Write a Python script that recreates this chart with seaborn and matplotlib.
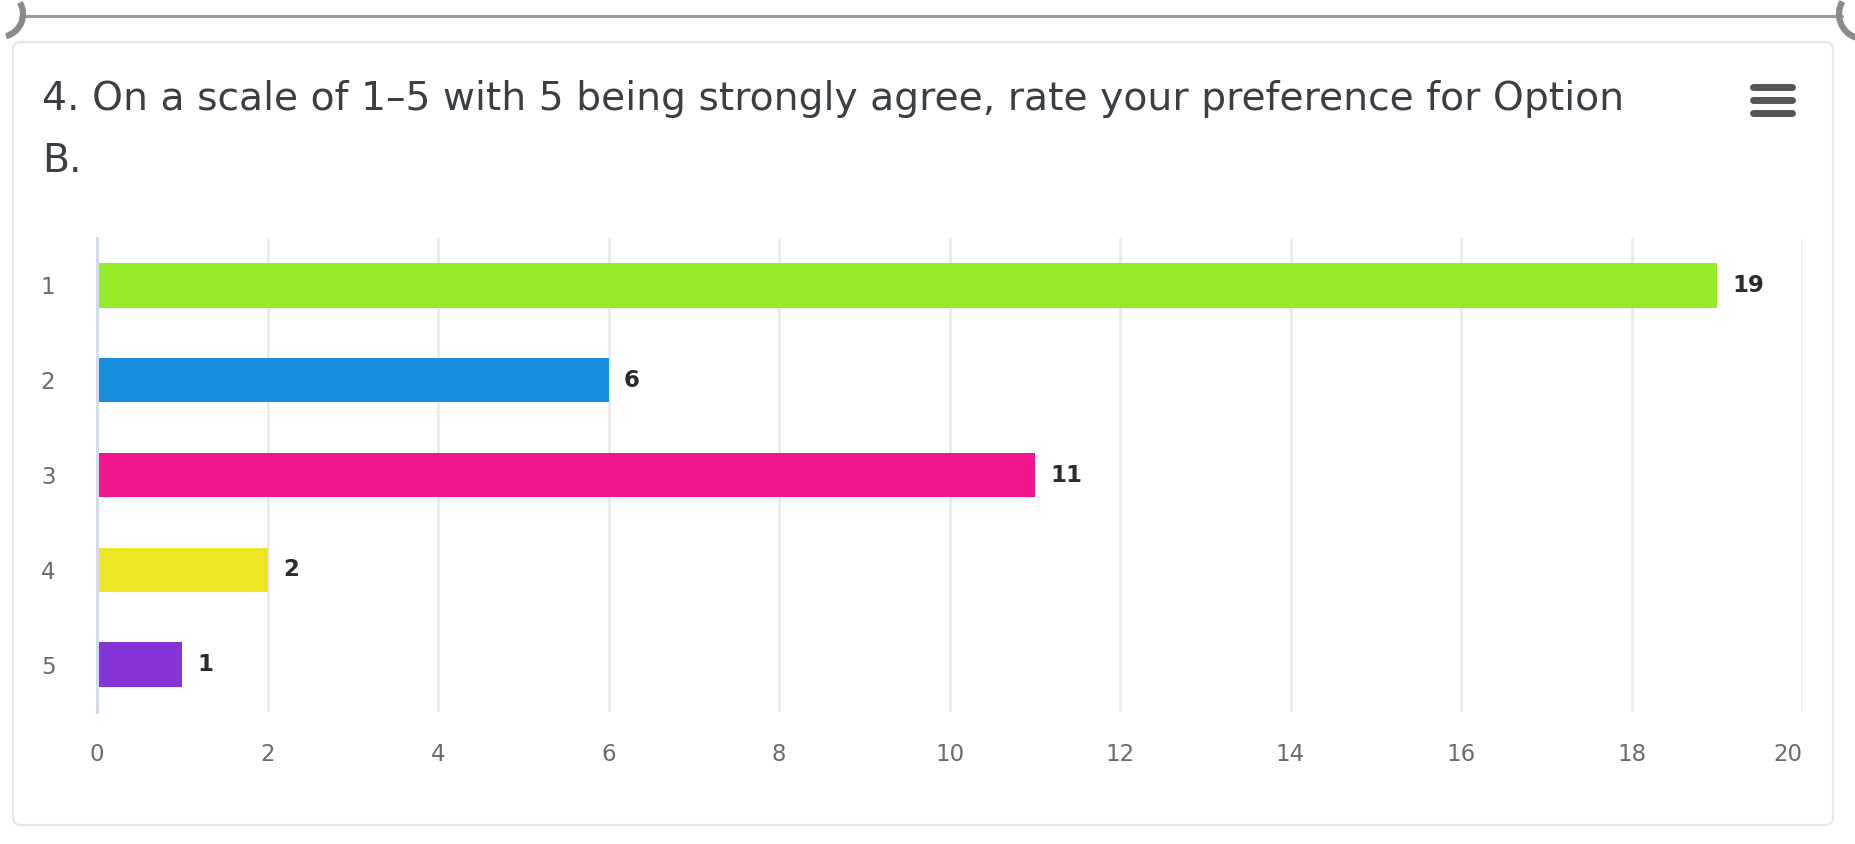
import matplotlib
matplotlib.use("Agg")
import matplotlib.pyplot as plt
import matplotlib.patches as mpatches
from matplotlib.lines import Line2D
from matplotlib.transforms import IdentityTransform
import seaborn as sns
import pandas as pd

# ---- data -------------------------------------------------------------
ratings = ["1", "2", "3", "4", "5"]
counts = [19, 6, 11, 2, 1]
bar_colors = ["#95EA2A", "#1990DD", "#F0158D", "#EDE625", "#8634D8"]
x_ticks = [0, 2, 4, 6, 8, 10, 12, 14, 16, 18, 20]
title_lines = [
    "4. On a scale of 1\u20135 with 5 being strongly agree, rate your preference for Option",
    "B.",
]

W, H, DPI = 1855, 844, 100

sns.set_theme(style="white")
plt.rcParams["font.family"] = ["DejaVu Sans"]

fig = plt.figure(figsize=(W / DPI, H / DPI), dpi=DPI)
fig.patch.set_facecolor("white")

px = IdentityTransform()  # display pixels, origin bottom-left


def py(y):
    return H - y


# card frame
card = mpatches.FancyBboxPatch(
    (13, py(825)), 1820, 825 - 42,
    boxstyle="round,pad=0,rounding_size=8",
    transform=px, facecolor="white", edgecolor="#e6e6e6", linewidth=1.5,
    zorder=-5,
)
fig.patches.append(card)

# splitter line and its end handles at the very top
fig.lines.append(Line2D([24, 1842], [py(16), py(16)], transform=px,
                        color="#9a9a9a", linewidth=2.2, zorder=-4))
fig.patches.append(mpatches.Arc((0, py(14)), 46, 46, angle=0, theta1=-75, theta2=30,
                                transform=px, color="#8a8a8a", linewidth=4.5, zorder=-4))
fig.patches.append(mpatches.Arc((1864, py(14)), 50, 50, angle=0, theta1=150, theta2=250,
                                transform=px, color="#8a8a8a", linewidth=4.5, zorder=-4))

# title
for line, base in zip(title_lines, [110, 172]):
    fig.text(42 / W, 1 - base / H, line, ha="left", va="baseline",
             fontsize=28.3, color="#3a3f44")

# menu icon
for yy in [87, 100, 113]:
    fig.lines.append(Line2D([1753, 1792], [py(yy), py(yy)], transform=px,
                            color="#555555", linewidth=5, solid_capstyle="round"))

# ---- bar chart --------------------------------------------------------
ax = fig.add_axes([97 / W, 1 - 712 / H, (1802 - 97) / W, (712 - 238) / H])
ax.set_zorder(2)
ax.set_facecolor("none")

df = pd.DataFrame({"rating": ratings, "count": counts})
sns.barplot(data=df, x="count", y="rating", hue="rating", order=ratings,
            palette=bar_colors, saturation=1, width=0.47, legend=False, ax=ax,
            edgecolor="none", linewidth=0, zorder=3)

for cont in ax.containers:
    ax.bar_label(cont, fmt="%d", padding=11, fontsize=16.5, fontweight="bold",
                 color="#2b2b2b")

ax.set_xlim(0, 20)
ax.set_ylim(4.5, -0.5)
ax.set_xticks(x_ticks)
ax.set_xticklabels([str(t) for t in x_ticks])
ax.xaxis.grid(True, color="#e9e9e9", linewidth=1.8, zorder=0)
ax.yaxis.grid(False)
ax.set_axisbelow(True)
for side in ["top", "right", "bottom"]:
    ax.spines[side].set_visible(False)
ax.spines["left"].set_color("#d3dbec")
ax.spines["left"].set_linewidth(2.2)
ax.spines["left"].set_zorder(4)
ax.tick_params(axis="x", length=0, pad=22, labelsize=16.5, labelcolor="#6a6a6a")
ax.tick_params(axis="y", length=0, pad=30, labelsize=16.5, labelcolor="#6a6a6a")
# keep the last x label inside the plot edge
ax.get_xticklabels()[-1].set_horizontalalignment("right")
ax.set_xlabel("")
ax.set_ylabel("")

fig.savefig("out.png", dpi=DPI, facecolor="white")
